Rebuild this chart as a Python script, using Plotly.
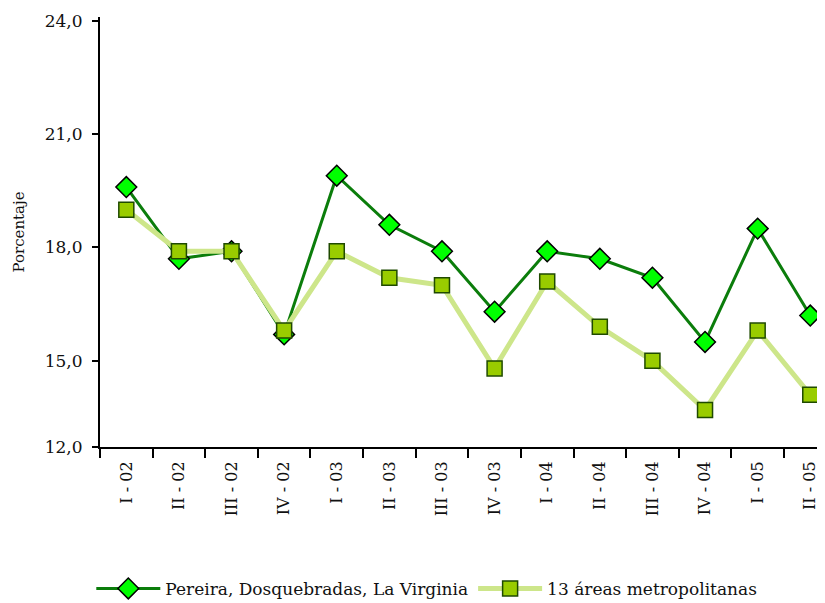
import plotly.graph_objects as go

trimestres = ["I - 02", "II - 02", "III - 02", "IV - 02",
              "I - 03", "II - 03", "III - 03", "IV - 03",
              "I - 04", "II - 04", "III - 04", "IV - 04",
              "I - 05", "II - 05"]
pereira = [19.6, 17.7, 17.9, 15.7, 19.9, 18.6, 17.9, 16.3,
           17.9, 17.7, 17.2, 15.5, 18.5, 16.2]
areas_13 = [19.0, 17.9, 17.9, 15.8, 17.9, 17.2, 17.0, 14.8,
            17.1, 15.9, 15.0, 13.7, 15.8, 14.1]

# the original axis is labelled 12,0 at its floor although it sits nearer 12.7
y_floor = 12.72
y_ticks = [y_floor, 15, 18, 21, 24]
y_labels = ["12,0", "15,0", "18,0", "21,0", "24,0"]

FONT = "DejaVu Serif"

fig = go.Figure()
fig.add_trace(go.Scatter(
    x=trimestres, y=pereira, name="Pereira, Dosquebradas, La Virginia",
    mode="lines+markers",
    line=dict(color="#0b7d0b", width=3),
    marker=dict(symbol="diamond", size=16, color="#00ff00",
                line=dict(color="#000000", width=1.5)),
))
fig.add_trace(go.Scatter(
    x=trimestres, y=areas_13, name="13 áreas metropolitanas",
    mode="lines+markers",
    line=dict(color="#cde68a", width=5),
    marker=dict(symbol="square", size=15, color="#99cc00",
                line=dict(color="#1f4a00", width=1.5)),
))

# page body has an 8px margin, so the figure is drawn 8px smaller and offset
fig.update_layout(
    width=817, height=595,
    margin=dict(l=92, r=0, t=9, b=156, autoexpand=False),
    paper_bgcolor="white", plot_bgcolor="white",
    font=dict(family=FONT, size=15, color="#111111"),
    showlegend=True,
    legend=dict(orientation="h", x=-0.012, y=-0.33, xanchor="left",
                yanchor="middle", font=dict(size=17), itemwidth=64,
                bgcolor="rgba(0,0,0,0)"),
)
fig.update_xaxes(
    type="category", range=[-0.5, 13.28], automargin=False,
    showline=True, linecolor="black", linewidth=2,
    ticks="outside", tickson="boundaries", ticklen=9, tickwidth=1.5,
    tickcolor="black", tickangle=-90, showgrid=False,
    tickfont=dict(size=16), ticklabelstandoff=6,
)
fig.update_yaxes(
    range=[y_floor, 24.1], tickvals=y_ticks, ticktext=y_labels,
    automargin=False,
    showline=True, linecolor="black", linewidth=2,
    ticks="outside", ticklen=6, tickwidth=1.5, tickcolor="black",
    showgrid=False, zeroline=False, tickfont=dict(size=17),
    ticklabelstandoff=6,
    title=dict(text="Porcentaje", font=dict(size=15), standoff=16),
)

fig.write_html("out.html")
